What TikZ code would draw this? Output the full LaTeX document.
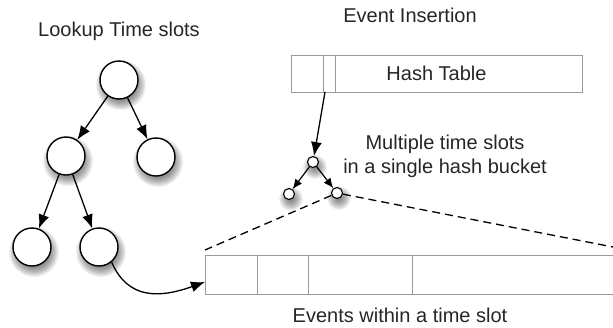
\documentclass[tikz,border=0pt]{standalone}
\usepackage{fontspec}
\setmainfont{Liberation Sans}
\usetikzlibrary{arrows.meta,backgrounds}

\tikzset{
  treenode/.style={circle, draw=black, line width=1.4pt, fill=white,
    minimum size=38pt, inner sep=0pt},
  slotnode/.style={circle, draw=black, line width=1.1pt, fill=white,
    minimum size=11pt, inner sep=0pt},
  link/.style={line width=1.3pt, -{Latex[length=14pt,width=11pt]}},
  smalllink/.style={line width=1.2pt, -{Latex[length=10pt,width=8.5pt]}},
  cell/.style={draw=black!40, line width=0.9pt, inner sep=0pt, outer sep=0pt},
  label/.style={font=\fontsize{20}{24}\selectfont, text=black!85},
  zoomline/.style={dashed, dash pattern=on 8pt off 5pt, line width=1.3pt},
  softshade/.style={fill=black, opacity=0.055},
}

% soft shadow under a round node: stacked translucent discs
\newcommand\roundshade[3]{%
  \foreach \rr in {#2,...,#3}
    \fill[softshade] ([shift={(2,5)}]#1.center) circle (\rr pt);}

\begin{document}
\begin{tikzpicture}[x=1pt,y=-1pt]
\useasboundingbox (0,0) rectangle (613,327);

% headings
\node[label] (lookup) at (119,31) {Lookup Time slots};
\node[label] (insert) at (410,15) {Event Insertion};

% lookup tree of time slots
\node[treenode] (root) at (119,80) {};
\node[treenode] (l)    at (66,156) {};
\node[treenode] (r)    at (156,157) {};
\node[treenode] (ll)   at (32,247) {};
\node[treenode] (lr)   at (99,247) {};
\draw[link] (root) -- (l);
\draw[link] (root) -- (r);
\draw[link] (l) -- (ll);
\draw[link] (l) -- (lr);

% hash table
\node[cell, minimum width=291pt, minimum height=37pt, anchor=north west, label] (hash) at (291,55) {Hash Table};
\node[cell, draw=none, minimum width=12pt, minimum height=37pt, anchor=north west] (bucket) at (323,55) {};
\draw[cell] (bucket.north west) -- (bucket.south west);
\draw[cell] (bucket.north east) -- (bucket.south east);

% time slots inside one bucket
\node[slotnode] (s0) at (313,162) {};
\node[slotnode] (s1) at (289,194) {};
\node[slotnode] (s2) at (337,193) {};
\draw[link] ([xshift=2pt]bucket.south west) -- (s0);
\draw[smalllink] (s0) -- (s1);
\draw[smalllink] (s0) -- (s2);
\node[label, align=center] (multi) at (445,156) {Multiple time slots\\in a single hash bucket};

% events of one time slot
\node[cell, minimum width=52pt, minimum height=39pt, anchor=north west] (e1) at (205,255) {};
\node[cell, minimum width=51pt, minimum height=39pt, anchor=north west] (e2) at (257,255) {};
\node[cell, minimum width=104pt, minimum height=39pt, anchor=north west] (e3) at (308,255) {};
\node[cell, draw=none, minimum width=201pt, minimum height=39pt, anchor=north west] (e4) at (412,255) {};
\draw[cell] (e4.north west) -- (e4.north east);
\draw[cell] (e4.south west) -- (e4.south east);
\node[label] (events) at (400,315) {Events within a time slot};

% zoom of the slot onto its events
\coordinate (zl) at (205,250);
\coordinate (zr) at (613,247);
\draw[zoomline] (s2) -- (zl);
\draw[zoomline] (s2) -- (zr);

% from a leaf of the tree to its events
\coordinate (evin) at (205,282);
\draw[link] (lr.-50) .. controls (128,300) and (160,298) .. (evin);

% shadows behind the round nodes
\begin{scope}[on background layer]
  \foreach \n in {root,l,r,ll,lr} {\roundshade{\n}{14}{25}}
  \foreach \n in {s0,s1,s2} {\roundshade{\n}{3}{12}}
\end{scope}
\end{tikzpicture}
\end{document}
